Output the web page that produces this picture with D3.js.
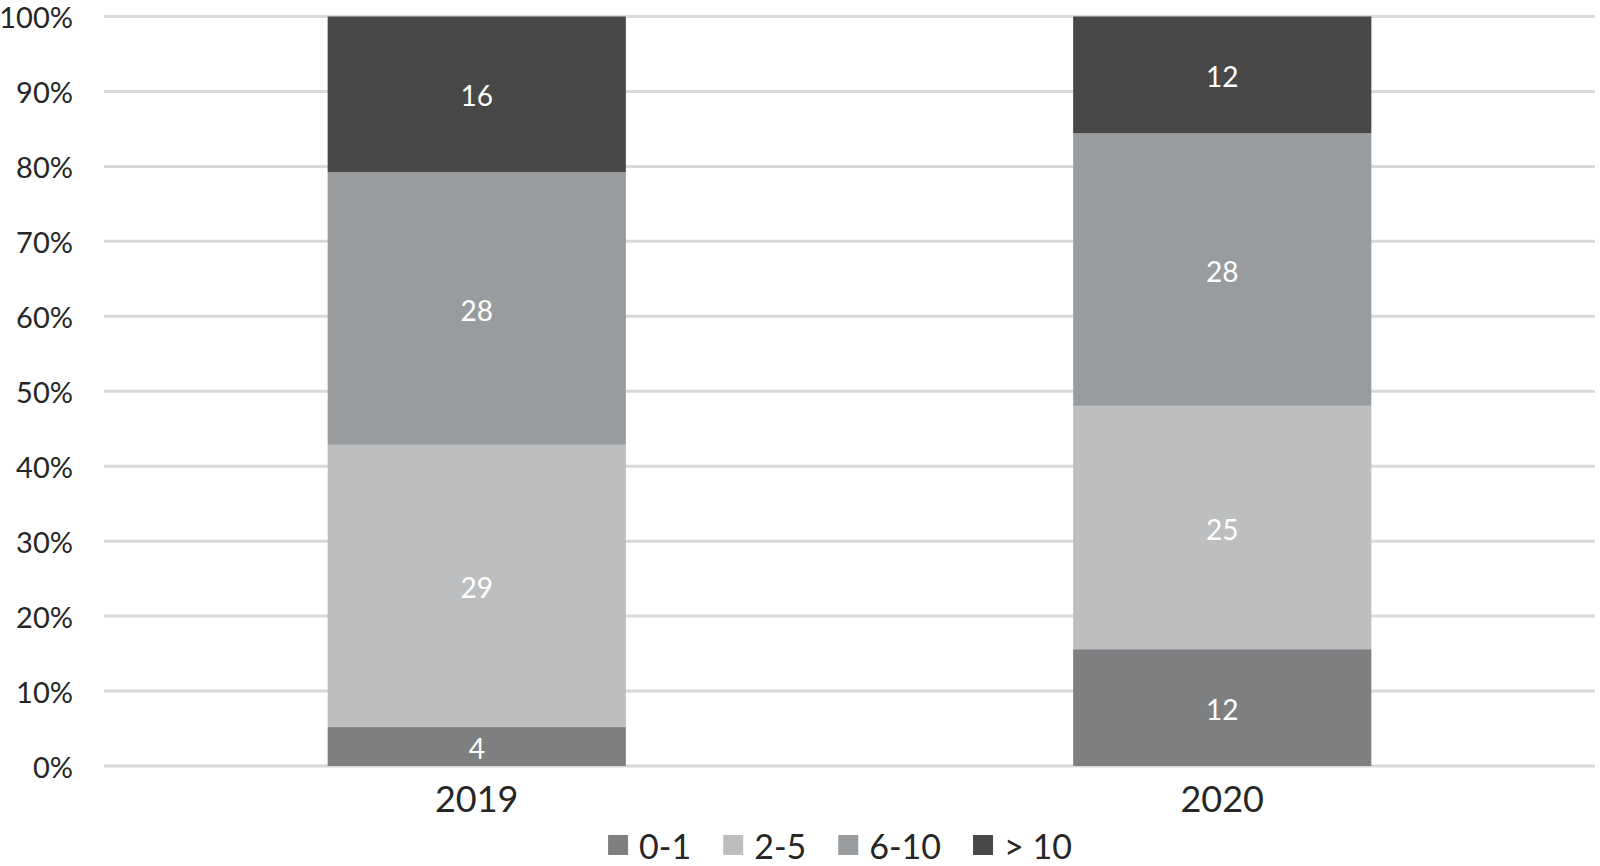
<!DOCTYPE html>
<html><head><meta charset="utf-8">
<script src="https://cdn.jsdelivr.net/npm/d3@7"></script>
<style>body{margin:0;background:#fff}svg{display:block}</style>
</head><body>
<svg id="chart" width="1600" height="866"></svg>
<script>
const categories = ["2019", "2020"];
const seriesNames = ["0-1", "2-5", "6-10", "> 10"];
const values01 = [4, 12];
const values25 = [29, 25];
const values610 = [28, 28];
const values10plus = [16, 12];
const yTicks = [0, 10, 20, 30, 40, 50, 60, 70, 80, 90, 100];
const colors = ["#7e7f81", "#bdbec0", "#999c9e", "#484848"];

const seriesValues = [values01, values25, values610, values10plus];
const rows = categories.map((c, i) => {
  const r = {cat: c};
  seriesNames.forEach((s, k) => r[s] = seriesValues[k][i]);
  return r;
});

const svg = d3.select("#chart");
const FONT = "Lato, 'Open Sans', sans-serif";

const y = d3.scaleLinear().domain([0, 100]).range([766, 16.5]);
const x = d3.scaleBand().domain(categories).range([104, 1595]).paddingInner(0.6).paddingOuter(0.3);
const gridX0 = 104, gridX1 = 1595;

// gridlines
svg.append("g").selectAll("line").data(yTicks).join("line")
  .attr("x1", gridX0).attr("x2", gridX1)
  .attr("y1", d => y(d)).attr("y2", d => y(d))
  .attr("stroke", "#d9d9d9").attr("stroke-width", 3);

// y tick labels
svg.append("g").selectAll("text").data(yTicks).join("text")
  .attr("x", 73).attr("y", d => y(d))
  .attr("text-anchor", "end").attr("dominant-baseline", "central")
  .attr("font-family", FONT).attr("font-size", 29).attr("fill", "#262626")
  .text(d => d + "%");

// stacked normalized
const stack = d3.stack().keys(seriesNames).offset(d3.stackOffsetExpand);
const stacked = stack(rows);

const g = svg.append("g");
stacked.forEach((layer, k) => {
  g.selectAll(null).data(layer).join("rect")
    .attr("x", d => x(d.data.cat))
    .attr("width", x.bandwidth())
    .attr("y", d => y(d[1] * 100))
    .attr("height", d => y(d[0] * 100) - y(d[1] * 100))
    .attr("fill", colors[k]);
  g.selectAll(null).data(layer).join("text")
    .attr("x", d => x(d.data.cat) + x.bandwidth() / 2)
    .attr("y", d => (y(d[0] * 100) + y(d[1] * 100)) / 2 + 1)
    .attr("text-anchor", "middle").attr("dominant-baseline", "central")
    .attr("font-family", FONT).attr("font-size", 28).attr("fill", "#ffffff")
    .text(d => d.data[layer.key]);
});

// category labels
svg.append("g").selectAll("text").data(categories).join("text")
  .attr("x", d => x(d) + x.bandwidth() / 2).attr("y", 812)
  .attr("text-anchor", "middle")
  .attr("font-family", FONT).attr("font-size", 36).attr("fill", "#262626")
  .text(d => d);

// legend
const leg = svg.append("g");
let cx = 0;
seriesNames.forEach((s, k) => {
  const it = leg.append("g");
  it.append("rect").attr("x", 0).attr("y", -10).attr("width", 20).attr("height", 20).attr("fill", colors[k]);
  const t = it.append("text").attr("x", 31).attr("y", 0).attr("dominant-baseline", "central")
    .attr("font-family", FONT).attr("font-size", 34).attr("fill", "#262626").text(s);
  const w = 31 + t.node().getComputedTextLength();
  it.attr("transform", `translate(${cx},0)`);
  cx += w + 32;
});
const total = cx - 32;
leg.attr("transform", `translate(${840 - total / 2},845)`);
</script>
</body></html>
